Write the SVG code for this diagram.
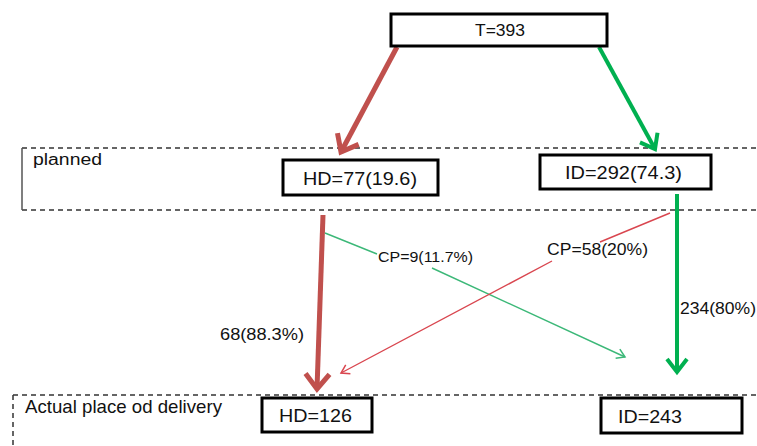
<svg xmlns="http://www.w3.org/2000/svg" width="757" height="446" viewBox="0 0 757 446">
<style>
  .box{fill:#fff;stroke:#000;stroke-width:3}
  .t{font-family:"Liberation Sans",Arial,sans-serif;fill:#111}
  .dash{fill:none;stroke:#333;stroke-width:1.5;stroke-dasharray:5 4}
  .solid{fill:none;stroke:#555;stroke-width:1.5}
  .redThick{fill:none;stroke:#c0504d;stroke-width:5}
  .greenThick{fill:none;stroke:#00b050;stroke-width:4}
  .redThin{fill:none;stroke:#d9464f;stroke-width:1.4}
  .greenThin{fill:none;stroke:#3cb878;stroke-width:1.4}
</style>
<defs>
  <marker id="aRedBig" markerUnits="userSpaceOnUse" viewBox="-22 -16 26 32" markerWidth="26" markerHeight="32" refX="0" refY="0" orient="auto" style="overflow:visible">
    <path d="M-15,-12 L0,0 L-15,12" fill="none" stroke="#c0504d" stroke-width="5"/>
  </marker>
  <marker id="aGreenBig" markerUnits="userSpaceOnUse" viewBox="-20 -14 24 28" markerWidth="24" markerHeight="28" refX="0" refY="0" orient="auto" style="overflow:visible">
    <path d="M-13,-10 L0,0 L-13,10" fill="none" stroke="#00b050" stroke-width="4"/>
  </marker>
  <marker id="aRedSmall" markerUnits="userSpaceOnUse" viewBox="-10 -6 12 12" markerWidth="12" markerHeight="12" refX="0" refY="0" orient="auto" style="overflow:visible">
    <path d="M-8,-5 L0,0 L-8,5" fill="none" stroke="#d9464f" stroke-width="1.5"/>
  </marker>
  <marker id="aGreenSmall" markerUnits="userSpaceOnUse" viewBox="-10 -6 12 12" markerWidth="12" markerHeight="12" refX="0" refY="0" orient="auto" style="overflow:visible">
    <path d="M-8,-5 L0,0 L-8,5" fill="none" stroke="#3cb878" stroke-width="1.5"/>
  </marker>
</defs>
<rect width="757" height="446" fill="#fff"/>

<g id="lane-planned">
  <path class="dash" d="M22,148 H757 M22,210 H757"/>
  <path class="solid" d="M22,148 V210"/>
  <text class="t" x="33" y="165" font-size="16" textLength="69" lengthAdjust="spacingAndGlyphs">planned</text>
</g>
<g id="lane-actual">
  <path class="dash" d="M13,395 H757 M13,395 V446"/>
  <text class="t" x="25" y="413" font-size="19" textLength="197" lengthAdjust="spacingAndGlyphs">Actual place od delivery</text>
</g>

<g id="connectors">
  <path class="redThick" d="M397,47 L341,152" marker-end="url(#aRedBig)"/>
  <path class="greenThick" d="M599,47 L655,149" marker-end="url(#aGreenBig)"/>
  <path class="redThick" d="M323,215 L317,389" marker-end="url(#aRedBig)"/>
  <path class="greenThick" d="M677,194 L677,372" marker-end="url(#aGreenBig)"/>
  <path class="greenThin" d="M325,233 L377,254 M432,268 L625,357" marker-end="url(#aGreenSmall)"/>
  <path class="redThin" d="M670,213 L600,242 M552,261 L341,373" marker-end="url(#aRedSmall)"/>
  <text class="t" x="378" y="262" font-size="15" textLength="95" lengthAdjust="spacingAndGlyphs">CP=9(11.7%)</text>
  <text class="t" x="547" y="255" font-size="16" textLength="101" lengthAdjust="spacingAndGlyphs">CP=58(20%)</text>
  <text class="t" x="220" y="340" font-size="17" textLength="84" lengthAdjust="spacingAndGlyphs">68(88.3%)</text>
  <text class="t" x="680" y="314" font-size="17" textLength="76" lengthAdjust="spacingAndGlyphs">234(80%)</text>
</g>

<g id="node-T">
  <rect class="box" x="391" y="14" width="216" height="32"/>
  <text class="t" x="475" y="36" font-size="16" textLength="50" lengthAdjust="spacingAndGlyphs">T=393</text>
</g>
<g id="node-HD-planned">
  <rect class="box" x="283" y="160" width="155" height="35"/>
  <text class="t" x="303" y="185" font-size="19" textLength="114" lengthAdjust="spacingAndGlyphs">HD=77(19.6)</text>
</g>
<g id="node-ID-planned">
  <rect class="box" x="540" y="155" width="171" height="34"/>
  <text class="t" x="565" y="179" font-size="19" textLength="117" lengthAdjust="spacingAndGlyphs">ID=292(74.3)</text>
</g>
<g id="node-HD-actual">
  <rect class="box" x="262" y="398" width="110" height="34"/>
  <text class="t" x="279" y="422" font-size="18" textLength="73" lengthAdjust="spacingAndGlyphs">HD=126</text>
</g>
<g id="node-ID-actual">
  <rect class="box" x="601" y="398" width="141" height="35"/>
  <text class="t" x="618" y="423" font-size="18" textLength="64" lengthAdjust="spacingAndGlyphs">ID=243</text>
</g>
</svg>
